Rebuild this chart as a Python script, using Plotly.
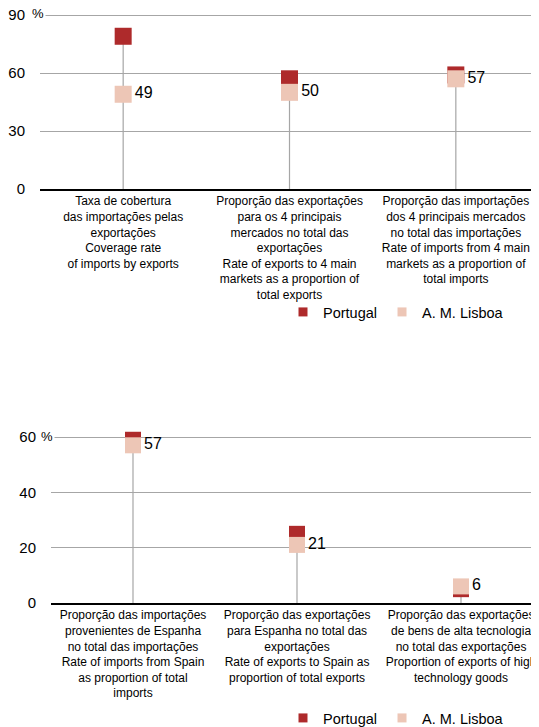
import plotly.graph_objects as go

# top chart
top_categories = [
    "Taxa de cobertura<br>das importações pelas<br>exportações<br>Coverage rate<br>of imports by exports",
    "Proporção das exportações<br>para os 4 principais<br>mercados no total das<br>exportações<br>Rate of exports to 4 main<br>markets as a proportion of<br>total exports",
    "Proporção das importações<br>dos 4 principais mercados<br>no total das importações<br>Rate of imports from 4 main<br>markets as a proportion of<br>total imports",
]
top_portugal = [79, 57, 59]
top_lisboa = [49, 50, 57]
top_yticks = [0, 30, 60, 90]

# bottom chart
bottom_categories = [
    "Proporção das importações<br>provenientes de Espanha<br>no total das importações<br>Rate of imports from Spain<br>as proportion of total<br>imports",
    "Proporção das exportações<br>para Espanha no total das<br>exportações<br>Rate of exports to Spain as<br>proportion of total exports",
    "Proporção das exportações<br>de bens de alta tecnologia<br>no total das exportações<br>Proportion of exports of high<br>technology goods",
]
bottom_portugal = [59, 25, 5]
bottom_lisboa = [57, 21, 6]
bottom_yticks = [0, 20, 40, 60]

series_names = ["Portugal", "A. M. Lisboa"]

PT_COLOR = "#AE2A2B"
LX_COLOR = "#EDC6B6"
GRID = "#A6A6A6"
FONT = "Arial, Liberation Sans, sans-serif"

# the page body has an 8px margin; the figure runs a little past the window
# on the right so the last category of the lower chart is cut like the original
OFF = 8
W, H = 543 - OFF, 735 - OFF


def fx(px):
    # window pixel -> paper fraction (x)
    return (px - OFF) / W


def fy(py):
    # window pixel -> paper fraction (y, from bottom)
    return (H - (py - OFF)) / H


def add_panel(fig, portugal, lisboa, xa, ya, legend, msize):
    xs = list(range(len(portugal)))

    # stems from 0 up to the highest value
    sx, sy = [], []
    for i in xs:
        sx += [i, i, None]
        sy += [0, max(portugal[i], lisboa[i]), None]
    fig.add_trace(go.Scatter(x=sx, y=sy, mode="lines", xaxis=xa, yaxis=ya,
                             line=dict(color=GRID, width=1.2),
                             showlegend=False, hoverinfo="skip"))

    fig.add_trace(go.Scatter(x=xs, y=portugal, mode="markers", xaxis=xa, yaxis=ya,
                             name=series_names[0], showlegend=False,
                             marker=dict(symbol="square", size=msize, color=PT_COLOR,
                                         line=dict(width=0)),
                             cliponaxis=False))
    fig.add_trace(go.Scatter(x=xs, y=lisboa, mode="markers+text", xaxis=xa, yaxis=ya,
                             name=series_names[1], showlegend=False,
                             text=[str(v) for v in lisboa], textposition="middle right",
                             textfont=dict(size=16, color="black", family=FONT),
                             marker=dict(symbol="square", size=msize, color=LX_COLOR,
                                         line=dict(width=0)),
                             cliponaxis=False))

    # small legend squares
    for name, color in zip(series_names, [PT_COLOR, LX_COLOR]):
        fig.add_trace(go.Scatter(x=[None], y=[None], mode="markers", name=name,
                                 xaxis=xa, yaxis=ya, legend=legend,
                                 marker=dict(symbol="square", size=9, color=color,
                                             line=dict(width=0))))
    return fig


fig = go.Figure()
fig = add_panel(fig, top_portugal, top_lisboa, "x", "y", "legend", 17)
fig = add_panel(fig, bottom_portugal, bottom_lisboa, "x2", "y2", "legend2", 16)

xcommon = dict(range=[-0.5, 2.5], showgrid=False, zeroline=False, showline=True,
               linecolor="black", linewidth=2, ticks="", tickvals=[0, 1, 2],
               tickfont=dict(size=12, color="black", family=FONT), tickangle=0,
               ticklabeloverflow="allow")
ycommon = dict(showgrid=True, gridcolor=GRID, gridwidth=1, zeroline=False,
               showline=False, ticks="", ticklabelstandoff=14, ticklabeloverflow="allow",
               tickfont=dict(size=15, color="black", family=FONT))
legcommon = dict(orientation="h", xanchor="left", yanchor="middle",
                 font=dict(size=14.5, color="black", family=FONT),
                 bgcolor="rgba(0,0,0,0)", itemwidth=30, tracegroupgap=0)

# top: 0 at y=189px, 90 at y=15px; bottom: 0 at 603px, 60 at 437px
top_max, bot_max = 92, 61
top_ppu = (189 - 15) / 90
bot_ppu = (603 - 437) / 60

fig.update_layout(
    width=W, height=H,
    template="none",
    plot_bgcolor="white", paper_bgcolor="white",
    margin=dict(l=0, r=0, t=0, b=0),
    xaxis=dict(domain=[fx(40), fx(539)], anchor="y", ticktext=top_categories, **xcommon),
    yaxis=dict(domain=[fy(189), fy(189 - top_max * top_ppu)], anchor="x",
               range=[0, top_max], tickvals=top_yticks, **ycommon),
    xaxis2=dict(domain=[fx(51), 1], anchor="y2", ticktext=bottom_categories, **xcommon),
    yaxis2=dict(domain=[fy(603), fy(603 - bot_max * bot_ppu)], anchor="x2",
                range=[0, bot_max], tickvals=bottom_yticks, **ycommon),
    legend=dict(x=fx(283), y=fy(312), **legcommon),
    legend2=dict(x=fx(283), y=fy(718), **legcommon),
    font=dict(family=FONT, color="black"),
)

# percent unit next to the top tick; white box hides the start of the grid line
fig.add_annotation(text="%", xref="paper", yref="y", x=fx(30), y=90, xanchor="left",
                   yanchor="middle", yshift=2, showarrow=False, bgcolor="white",
                   borderpad=1, font=dict(size=13, color="black", family=FONT))
fig.add_annotation(text="%", xref="paper", yref="y2", x=fx(39), y=60, xanchor="left",
                   yanchor="middle", yshift=1, showarrow=False, bgcolor="white",
                   borderpad=1, font=dict(size=13, color="black", family=FONT))

fig.write_html("out.html")
